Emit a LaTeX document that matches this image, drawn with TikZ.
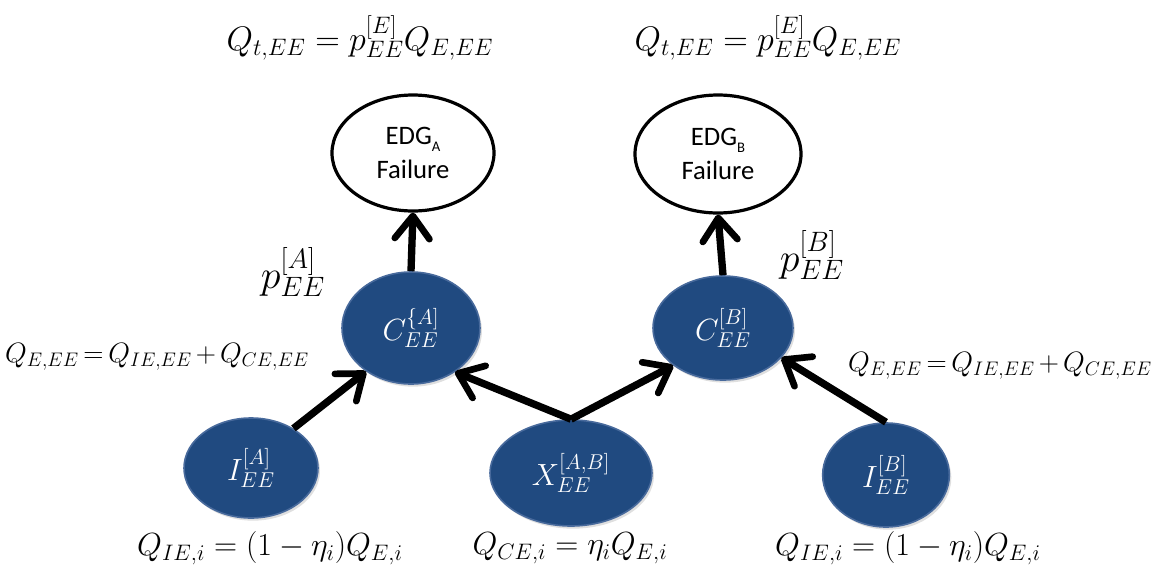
\RequirePackage{fix-cm}
\documentclass[tikz,border=0pt]{standalone}
\usepackage{fontspec}
\newfontfamily\calfont{Carlito}
\usetikzlibrary{shapes.geometric,arrows.meta,shadows}
\definecolor{nodeblue}{RGB}{32,74,128}
\definecolor{nodeedge}{RGB}{72,106,156}
\newcommand\tightmath{\medmuskip 2.5mu\relax\thickmuskip 3mu\relax}
\begin{document}
\begin{tikzpicture}[x=0.75pt,y=-0.75pt,
  bnode/.style={ellipse,fill=nodeblue,draw=nodeedge,line width=1.2pt,inner sep=0pt,
     text=white,font=\fontsize{23}{26}\selectfont,
     drop shadow={opacity=0.25,shadow xshift=1.5pt,shadow yshift=-2pt}},
  wnode/.style={ellipse,fill=white,draw=black,line width=2.4pt,inner sep=0pt,
     align=center,font=\calfont\fontsize{20}{26}\selectfont},
  arr/.style={line width=5.5pt,-{Straight Barb[length=17pt,width=26pt,line width=5pt,round]}},
  eq/.style={inner sep=0pt,font=\fontsize{24}{28}\selectfont},
  side/.style={inner sep=0pt,font=\fontsize{21}{24}\selectfont},
  top/.style={inner sep=0pt,font=\fontsize{25.5}{30}\selectfont},
  big/.style={inner sep=0pt,font=\fontsize{30}{34}\selectfont}]
\useasboundingbox (0,0) rectangle (1158,572);
% white ellipses
\node[wnode,minimum width=121.5pt,minimum height=87pt] (EA) at (413,153)
  {EDG\raisebox{-0.55ex}{\fontsize{11}{12}\selectfont A}\\Failure};
\node[wnode,minimum width=124.5pt,minimum height=88.5pt] (EB) at (718,154)
  {EDG\raisebox{-0.55ex}{\fontsize{11}{12}\selectfont B}\\Failure};
% blue ellipses
\node[bnode,minimum width=103.5pt,minimum height=84pt] (CA) at (411,328) {$C^{\{A]}_{EE}$};
\node[bnode,minimum width=105pt,minimum height=78pt] (CB) at (723,328) {$C^{[B]}_{EE}$};
\node[bnode,minimum width=100.5pt,minimum height=75pt] (IA) at (251,468) {$I^{[A]}_{EE}$};
\node[bnode,minimum width=121.5pt,minimum height=79.5pt] (X) at (571,473) {$X^{[A,B]}_{EE}$};
\node[bnode,minimum width=95pt,minimum height=78pt] (IB) at (886,475) {$I^{[B]}_{EE}$};
% arrows
\draw[arr] (CA.north) -- (EA.south);
\draw[arr] (CB.north) -- (EB.south);
\draw[arr] (IA.43) -- (CA.224);
\draw[arr] (X.north) -- (CA.-45);
\draw[arr] (X.north) -- (CB.217);
\draw[arr] (IB.north) -- (CB.-27);
% labels
\node[top] (tA) at (360,38) {$Q_{t,EE} = p^{[E]}_{EE}Q_{E,EE}$};
\node[top] (tB) at (768,38) {$Q_{t,EE} = p^{[E]}_{EE}Q_{E,EE}$};
\node[big] (pA) at (293,272) {$p^{[A]}_{EE}$};
\node[big] (pB) at (812,255) {$p^{[B]}_{EE}$};
\node[side] (lA) at (157,357) {$\tightmath Q_{E,EE} = Q_{IE,EE} + Q_{CE,EE}$};
\node[side] (lB) at (1000,366) {$\tightmath Q_{E,EE} = Q_{IE,EE} + Q_{CE,EE}$};
\node[eq] (bA) at (270,548) {$Q_{IE,i} = (1-\eta_i)Q_{E,i}$};
\node[eq] (bX) at (570,548) {$Q_{CE,i} = \eta_i Q_{E,i}$};
\node[eq] (bB) at (908,548) {$Q_{IE,i} = (1-\eta_i)Q_{E,i}$};
\end{tikzpicture}
\end{document}
